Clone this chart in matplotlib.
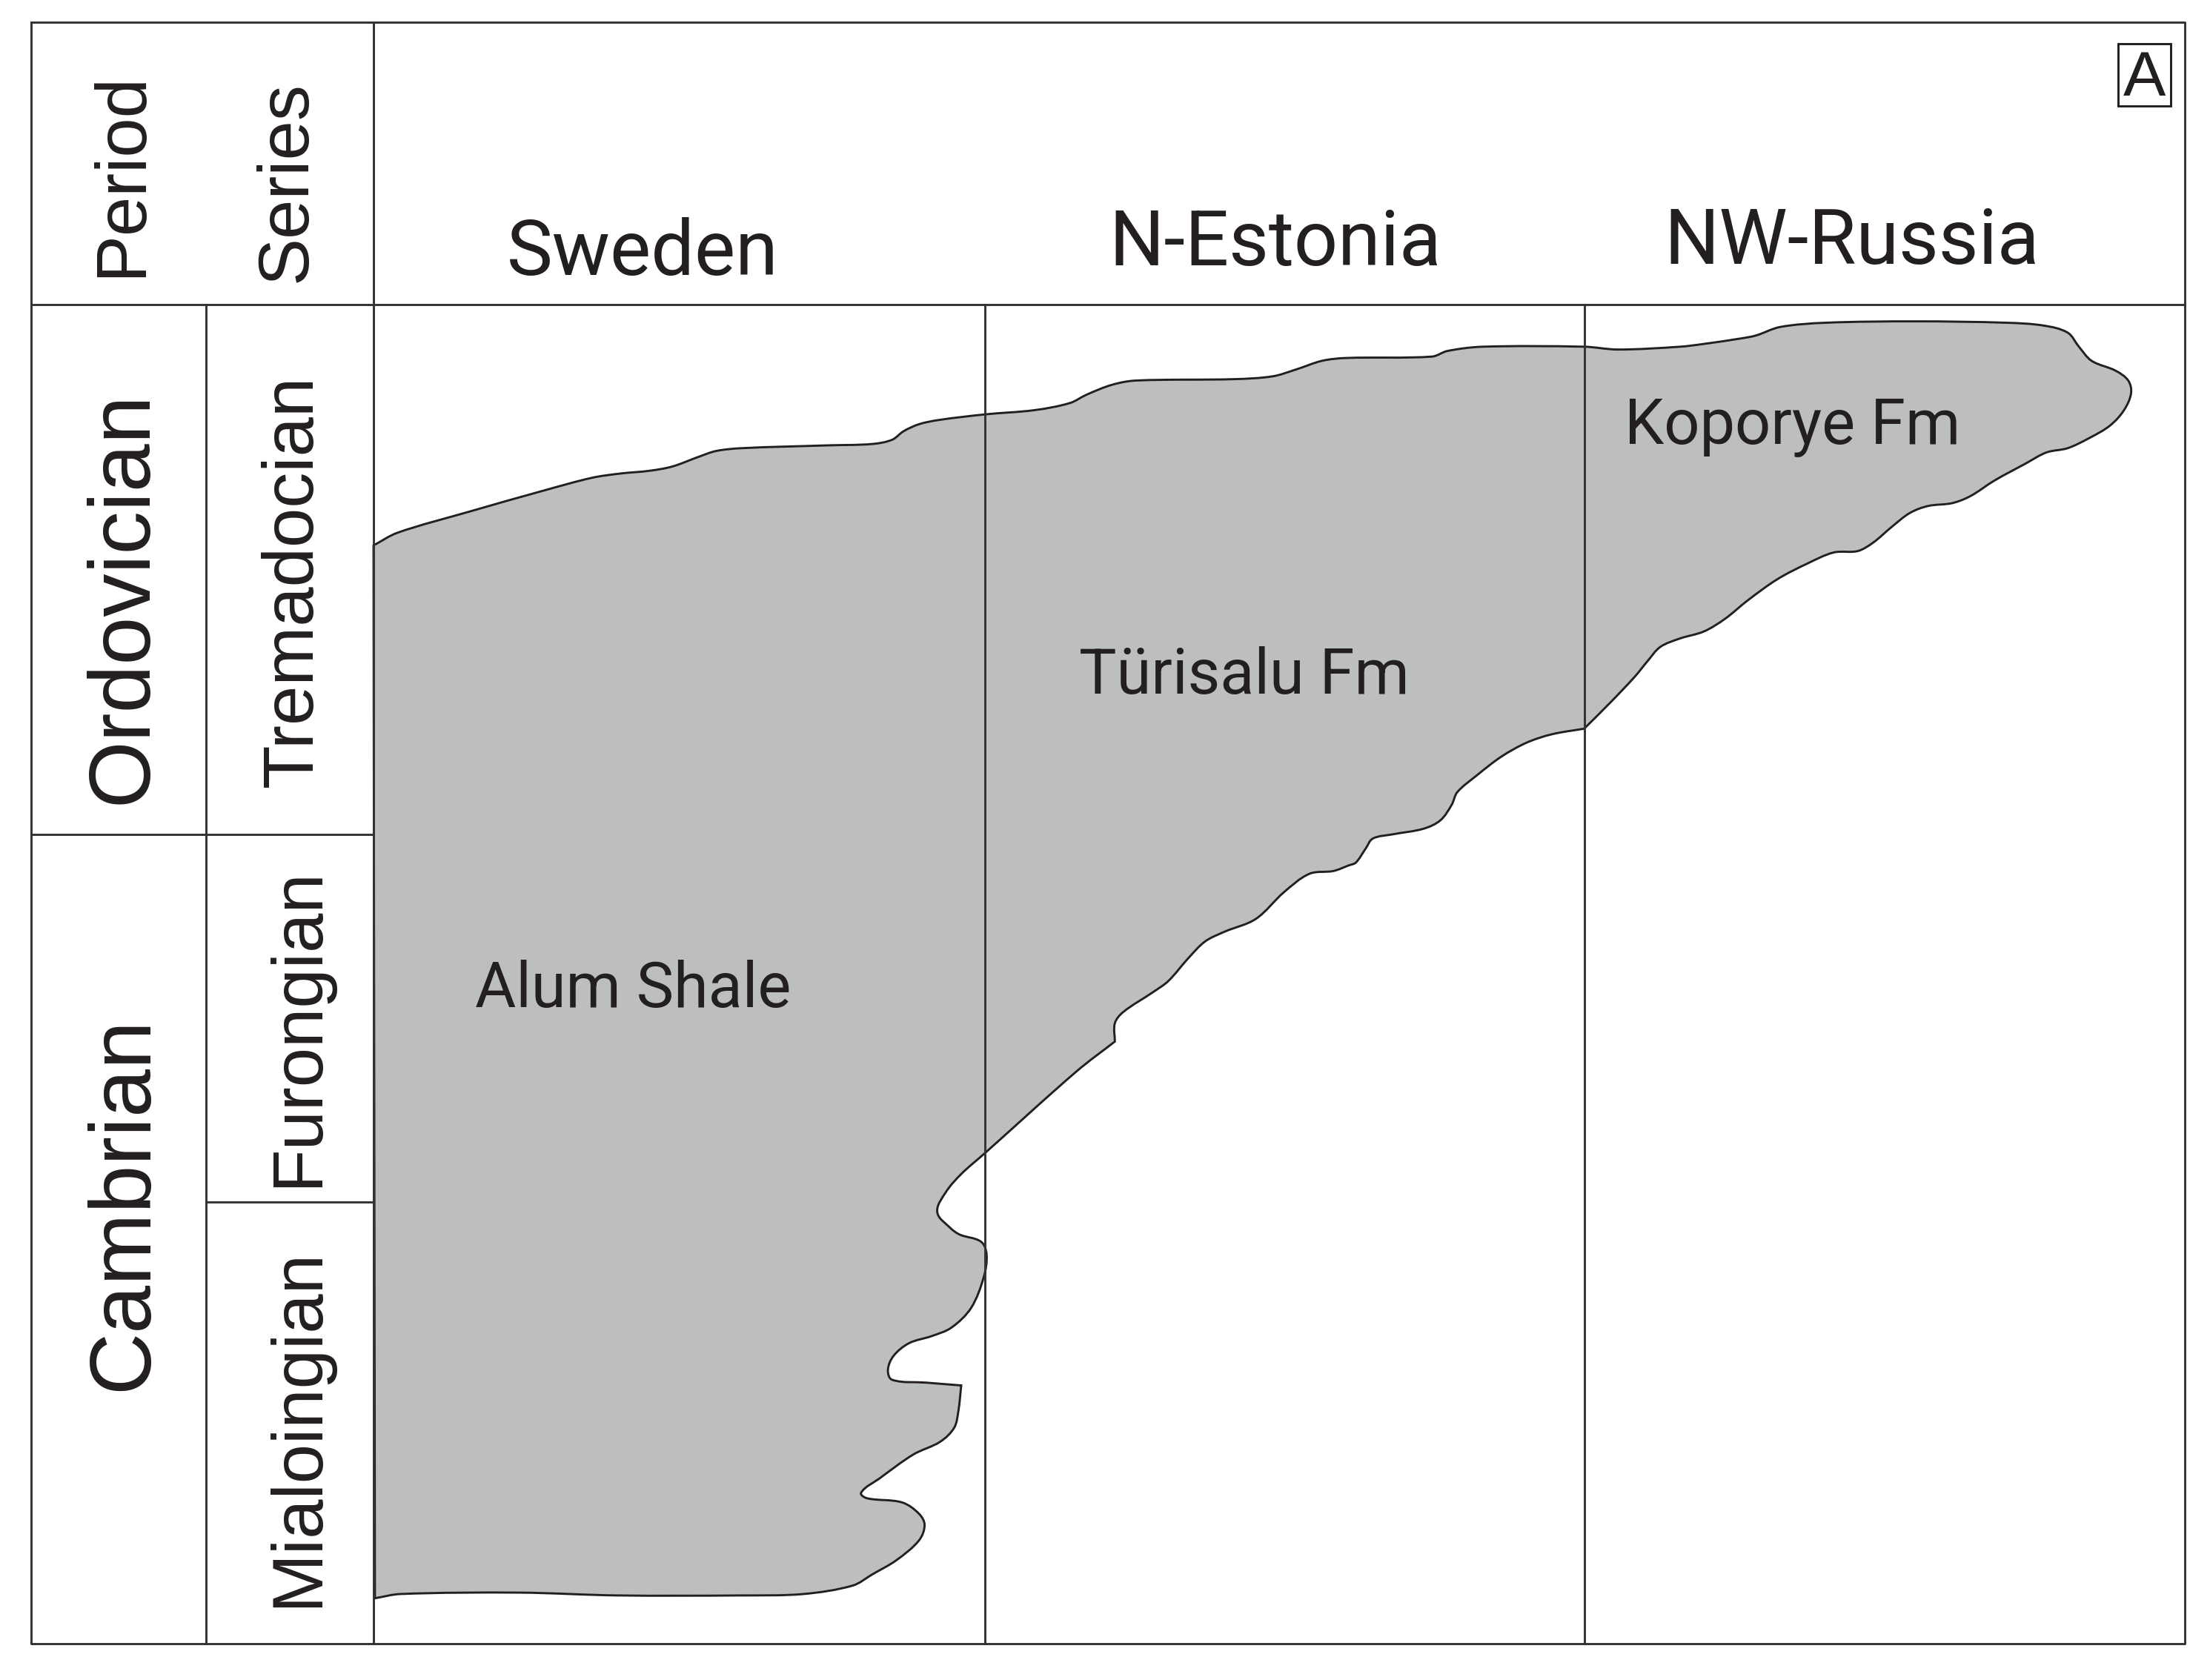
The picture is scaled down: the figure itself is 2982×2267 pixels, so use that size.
import matplotlib
matplotlib.use("Agg")
import matplotlib.pyplot as plt
import numpy as np
from matplotlib.patches import PathPatch, Rectangle
from matplotlib.path import Path

plt.rcParams['font.family'] = ['Liberation Sans', 'DejaVu Sans']
NARROW = ['Roboto', 'Liberation Sans', 'DejaVu Sans']

# outline of the shale body, in reference units (1568 wide), doubled points are sharp corners
top_x = [265, 265, 282, 333, 386, 420, 440, 461, 477, 496, 508, 526, 587, 619, 633, 641, 652, 666, 699, 734, 759,
         771, 789, 806, 876, 903, 920, 938, 955, 1016, 1027, 1052, 1124, 1148, 1192, 1209, 1236, 1246, 1263, 1295,
         1359, 1424, 1450, 1467, 1475, 1484, 1501, 1510, 1512]
top_y = [387, 387, 378, 363, 348, 339, 336, 334, 331, 324, 320, 318, 316, 315, 312, 306, 301, 298, 294, 291, 286,
         280, 273, 270, 269, 267, 262, 256, 254, 253, 249, 246, 246, 248, 246, 244, 240, 238, 232, 229,
         228, 229, 231, 236, 246, 256, 263, 270, 279]
lower_x = [1507, 1497, 1482, 1467, 1452, 1437, 1415, 1398, 1385, 1368, 1355, 1342, 1329, 1318, 1301, 1282, 1261,
           1240, 1224, 1209, 1192, 1178, 1169, 1160, 1143, 1124, 1124, 1101, 1083, 1065, 1048, 1034, 1030, 1022,
           1010, 988, 974, 969, 962, 957, 946, 929, 911, 891, 869, 855, 843, 829, 818, 797, 791, 791, 791, 764, 699]
lower_y = [291, 302, 311, 318, 321, 329, 341, 352, 357, 359, 364, 374, 385, 391, 392, 400, 411,
           426, 439, 448, 453, 459, 469, 480, 498, 517, 517, 521, 527, 537, 550, 562, 571, 582,
           588, 592, 595, 602, 612, 614, 618, 620, 633, 652, 661, 668, 680, 696, 704, 718, 726, 739, 739, 760, 818]
notch_x = [682, 671, 665, 674, 681, 696, 700, 698, 689, 675, 661, 645, 634, 630, 633, 657, 682, 682, 680, 677, 667,
           648, 624, 611, 615, 640, 652, 656, 652, 636, 619, 605, 570, 526, 438, 368, 284, 266, 266]
notch_y = [833, 846, 860, 871, 876, 881, 890, 906, 928, 942, 948, 953, 962, 972, 979, 981, 983, 983, 1001, 1013, 1023,
           1032, 1049, 1059, 1063, 1066, 1074, 1082, 1093, 1107, 1117, 1125, 1131, 1132, 1132, 1130, 1131, 1134, 1134]

outline_x = top_x + lower_x + notch_x
outline_y = top_y + lower_y + notch_y

columns = ["Sweden", "N-Estonia", "NW-Russia"]
periods = ["Ordovician", "Cambrian"]
series = ["Tremadocian", "Furongian", "Mialoingian"]
formations = ["Alum Shale", "Türisalu Fm", "Koporye Fm"]


def smooth_path(xs, ys):
    # closed bezier through the points, handles follow the neighbours
    pts = np.column_stack([xs, ys]).astype(float)
    n = len(pts)
    verts = [pts[0]]
    codes = [Path.MOVETO]
    for i in range(n - 1):
        p1, p2 = pts[i], pts[i + 1]
        d1 = p2 - pts[max(i - 1, 0)]
        d2 = pts[min(i + 2, n - 1)] - p1
        d1 = d1 / max(np.hypot(*d1), 1e-9)
        d2 = d2 / max(np.hypot(*d2), 1e-9)
        length = np.hypot(*(p2 - p1)) / 3
        verts += [p1 + d1 * length, p2 - d2 * length, p2]
        codes += [Path.CURVE4] * 3
    verts.append(pts[0])
    codes.append(Path.CLOSEPOLY)
    return Path(verts, codes)


fig = plt.figure(figsize=(29.82, 22.67), dpi=100)
ax = fig.add_axes([0, 0, 1, 1])
ax.set_xlim(0, 1568)
ax.set_ylim(1192, 0)
ax.axis("off")

line_kw = dict(color="#333132", lw=2.1)
text_kw = dict(color="#231f20", ha="center", va="center")

ax.add_patch(PathPatch(smooth_path(outline_x, outline_y), facecolor="#bcbec0", edgecolor="#231f20", lw=2.1, zorder=1))

# frame and grid
ax.plot([22, 1550, 1550, 22, 22], [16, 16, 1166, 1166, 16], **line_kw)
ax.plot([22, 1550], [216, 216], **line_kw)
ax.plot([265, 265], [16, 1166], **line_kw)
ax.plot([146, 146], [216, 1166], **line_kw)
ax.plot([699, 699], [216, 1166], **line_kw)
ax.plot([1124, 1124], [216, 1166], **line_kw)
ax.plot([22, 265], [592, 592], **line_kw)
ax.plot([146, 265], [853, 853], **line_kw)

# header text
ax.text(87, 124, "Period", rotation=90, fontsize=69, **text_kw)
ax.text(204, 129, "Series", rotation=90, fontsize=69, **text_kw)
ax.text(456, 180, columns[0], fontsize=75, family=NARROW, **text_kw)
ax.text(905, 173, columns[1], fontsize=75, family=NARROW, **text_kw)
ax.text(1314, 172, columns[2], fontsize=75, family=NARROW, **text_kw)

# stratigraphy
ax.text(88, 424, periods[0], rotation=90, fontsize=84, **text_kw)
ax.text(88, 854, periods[1], rotation=90, fontsize=84, **text_kw)
ax.text(208, 412, series[0], rotation=90, fontsize=69, **text_kw)
ax.text(212, 729, series[1], rotation=90, fontsize=69, **text_kw)
ax.text(212, 1013, series[2], rotation=90, fontsize=69, **text_kw)

# formation labels
ax.text(449, 702, formations[0], fontsize=61, family=NARROW, **text_kw)
ax.text(883, 480, formations[1], fontsize=61, family=NARROW, **text_kw)
ax.text(1272, 303, formations[2], fontsize=61, family=NARROW, **text_kw)

# panel letter
ax.add_patch(Rectangle((1503, 31), 37, 44, facecolor="white", edgecolor="#231f20", lw=2.1, zorder=2))
ax.text(1521.5, 56, "A", fontsize=62, zorder=3, **text_kw)

fig.savefig("out.png", dpi=100)
